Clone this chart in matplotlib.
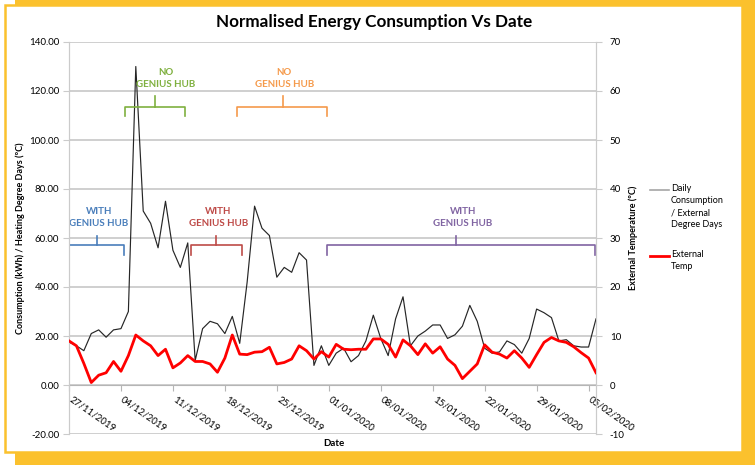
import matplotlib
matplotlib.use("Agg")
import matplotlib.pyplot as plt
import matplotlib.dates as mdates
import matplotlib.transforms as mtransforms
from matplotlib.patches import Rectangle
from matplotlib.lines import Line2D
import pandas as pd

plt.rcParams['font.family'] = ['Lato', 'DejaVu Sans']

# ---------------- data ----------------
start_date = "2019-11-27"
n_days = 72
consumption = [17.5, 16, 14, 21, 22.5, 19.5, 22.5, 23, 30, 130, 71, 66, 56, 75, 55, 48, 58, 10,
               23, 26, 25, 21, 28, 17, 42, 73, 64, 61, 44, 48, 46, 54, 51, 8, 16, 8, 13, 15, 9.5,
               12, 18, 28.5, 19, 12, 27, 36, 16, 20, 22, 24.5, 24.5, 19, 20.5, 24, 32.5, 26, 15,
               13, 13.5, 18, 16.5, 13, 19, 31, 29.5, 27.5, 18, 18.5, 16, 15.5, 15.5, 27]
ext_temp = [9, 8, 4.4, 0.5, 2, 2.5, 4.8, 2.8, 6, 10.2, 9, 8, 6, 7.3, 3.5, 4.5, 6, 4.8, 4.8, 4.3,
            2.6, 5.5, 10.2, 6.3, 6.2, 6.7, 6.8, 7.7, 4.3, 4.6, 5.3, 8, 7, 5.3, 6.8, 5.7, 8.3, 7.3,
            7.2, 7.3, 7.3, 9.4, 9.4, 8.3, 5.7, 9.2, 8, 6.2, 8.4, 6.5, 7.8, 5.3, 4, 1.3, 2.8, 4.3,
            8.2, 6.7, 6.3, 5.5, 7, 5.5, 3.6, 6.2, 8.7, 9.7, 9, 8.7, 7.8, 6.6, 5.5, 2.5]
dates = pd.date_range(start_date, periods=n_days, freq="D")
tick_dates = pd.date_range(start_date, "2020-02-05", freq="7D")
left_ticks = [-20, 0, 20, 40, 60, 80, 100, 120, 140]
right_ticks = [-10, 0, 10, 20, 30, 40, 50, 60, 70]

# annotations: (label, start_day, end_day, centre_day, level, colour)
brackets = [
    ("WITH\nGENIUS HUB", 0.0, 7.4, 3.8, "low", "#4a7ebb"),
    ("NO\nGENIUS HUB", 7.5, 15.6, 11.6, "high", "#7fb03f"),
    ("WITH\nGENIUS HUB", 16.4, 23.3, 19.8, "low", "#be4b48"),
    ("NO\nGENIUS HUB", 22.7, 34.7, 28.8, "high", "#f59a4b"),
    ("WITH\nGENIUS HUB", 34.7, 70.8, 52.1, "low", "#8064a2"),
]

W, H = 755, 465
fig = plt.figure(figsize=(W / 100, H / 100), dpi=100)
fig.patch.set_facecolor("white")

# frame decoration
yellow = "#fbc12d"
fig.add_artist(Rectangle((15 / W, 0), 1 - 15 / W, 1, transform=fig.transFigure,
                         facecolor=yellow, edgecolor="none", zorder=-10))
fig.add_artist(Rectangle((5 / W, 1 - 452 / H), 737 / W, 447 / H, transform=fig.transFigure,
                         facecolor="white", edgecolor=yellow, lw=1.8, zorder=-9))

ax = fig.add_axes([69 / W, 1 - 434 / H, (596 - 69) / W, (434 - 42) / H])
ax.set_facecolor("none")
ax2 = ax.twinx()

grid_c = "#cbcbcb"
ax.plot(dates, consumption, color="#262626", lw=0.85, zorder=3)
ax2.plot(dates, ext_temp, color="#ff0000", lw=2.0, zorder=4, solid_joinstyle="round")

ax.set_xlim(dates[0], dates[-1])
ax.set_ylim(-20, 140)
ax2.set_ylim(-10, 70)
ax.set_yticks(left_ticks)
ax.set_yticklabels([f"{v:.2f}" for v in left_ticks])
ax2.set_yticks(right_ticks)
ax2.set_yticklabels([str(v) for v in right_ticks])

ax.yaxis.grid(True, color=grid_c, lw=1.3)
ax.set_axisbelow(True)

for a in (ax, ax2):
    a.spines["top"].set_visible(False)
    a.spines["left"].set_color(grid_c)
    a.spines["right"].set_color(grid_c)
    a.spines["bottom"].set_visible(False)
ax.spines["bottom"].set_visible(True)
ax.spines["bottom"].set_position(("data", 0))
ax.spines["bottom"].set_color("#b5b5b5")

ax.set_xticks(tick_dates)
ax.xaxis.set_major_formatter(mdates.DateFormatter("%d/%m/%Y"))
ax.tick_params(axis="x", length=4, color="#b5b5b5", labelsize=7, pad=3)
offset = mtransforms.ScaledTranslation(3.5 / 100, 0, fig.dpi_scale_trans)
for lbl in ax.get_xticklabels():
    lbl.set_rotation(-35)
    lbl.set_ha("left")
    lbl.set_va("top")
    lbl.set_rotation_mode("anchor")
    lbl.set_transform(lbl.get_transform() + offset)
ax.tick_params(axis="y", length=4, color=grid_c, labelsize=7, pad=3)
ax2.tick_params(axis="y", length=4, color=grid_c, labelsize=7, pad=6)

ax.set_xlabel("Date", fontsize=7, fontweight="bold")
ax.xaxis.set_label_coords(0.502, -0.012)
ax.set_ylabel("Consumption (kWh) / Heating Degree Days (ºC)", fontsize=6.5, fontweight="bold")
ax.yaxis.set_label_coords(-0.083, 0.5)
ax2.set_ylabel("External Temperature (ºC)", fontsize=6.5, fontweight="bold")
ax2.yaxis.set_label_coords(1.062, 0.5)

fig.text(374 / W, 1 - 22 / H, "Normalised Energy Consumption Vs Date", ha="center",
         va="center", fontsize=12.3, fontweight="bold")

# brackets
levels = {"low": (57.1, 52.9, 60.8, 68.5), "high": (113.5, 109.6, 118.0, 125.0)}
d0 = dates[0]
for text, xs, xe, xc, lev, col in brackets:
    h, hook, top, ty = levels[lev]
    x0 = d0 + pd.Timedelta(days=xs)
    x1 = d0 + pd.Timedelta(days=xe)
    xm = d0 + pd.Timedelta(days=xc)
    ax.plot([x0, x0, x1, x1], [hook, h, h, hook], color=col, lw=1.2, zorder=5)
    ax.plot([xm, xm], [h, top], color=col, lw=1.2, zorder=5)
    xt = d0 + pd.Timedelta(days=(xs + xe) / 2 + (1.5 if lev == "high" and xs < 10 else 0.3))
    ax.text(xt, ty, text, color=col, ha="center", va="center", fontsize=7,
            fontweight="bold", linespacing=1.45, zorder=6)

# legend (manual)
fig.add_artist(Line2D([650 / W, 669 / W], [1 - 190 / H] * 2, color="#a6a6a6", lw=1.2,
                      transform=fig.transFigure))
fig.text(671 / W, 1 - 184 / H, "Daily\nConsumption\n/ External\nDegree Days", ha="left",
         va="top", fontsize=6.5, linespacing=1.45)
fig.add_artist(Line2D([650 / W, 669 / W], [1 - 256 / H] * 2, color="#ff0000", lw=2.0,
                      transform=fig.transFigure))
fig.text(671 / W, 1 - 250 / H, "External\nTemp", ha="left", va="top", fontsize=6.5,
         linespacing=1.45)

fig.savefig("out.png", dpi=100)
